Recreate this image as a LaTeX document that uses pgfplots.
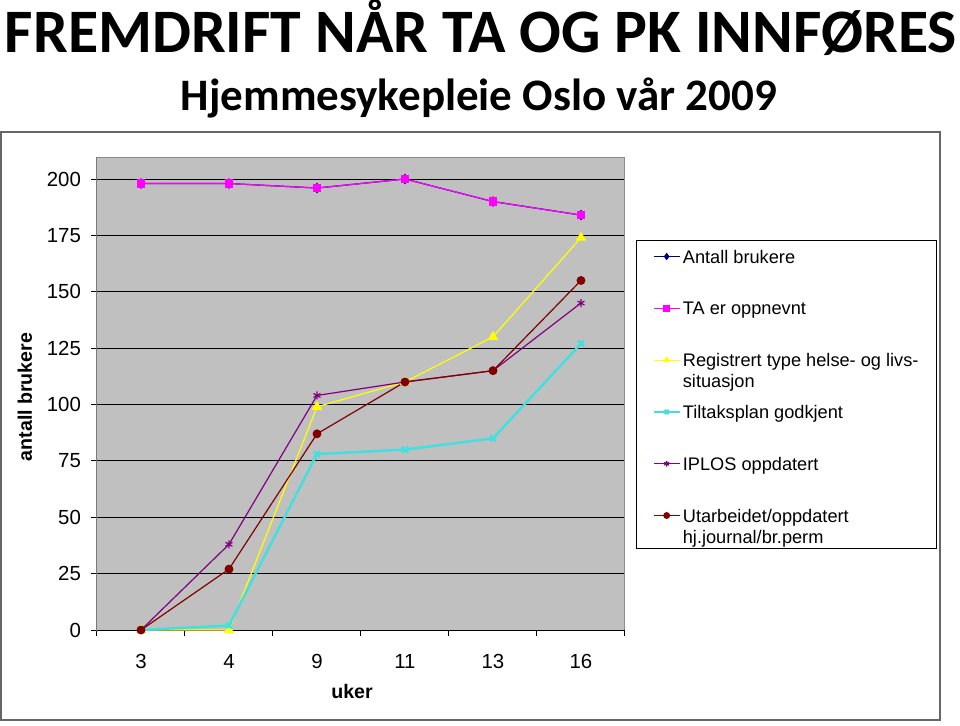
\documentclass[border=0pt]{standalone}
\usepackage{pgfplots}
\pgfplotsset{compat=1.18}
\usepackage{fontspec}
\setmainfont{Liberation Sans}
\newfontfamily\cali{Carlito}
\definecolor{plotbg}{RGB}{192,192,192}
\definecolor{sNavy}{RGB}{0,0,128}
\definecolor{sMag}{RGB}{255,0,255}
\definecolor{sYel}{RGB}{255,255,0}
\definecolor{sCyan}{RGB}{64,224,224}
\definecolor{sPur}{RGB}{128,0,128}
\definecolor{sRed}{RGB}{128,0,0}
\tikzset{lgt/.style={anchor=base west, inner ysep=0pt, inner xsep=1pt, text height=9.3pt, text depth=#1},
  lgt/.default=2.7pt}
\newcommand{\LT}[1]{\begin{tabular}[t]{@{}l@{}}#1\end{tabular}}
\begin{document}
\begin{tikzpicture}
\path[use as bounding box] (0,0) rectangle (480pt,362.5pt);
\draw[black!60, line width=0.6pt] (0.5pt,2.5pt) rectangle (470pt,296.5pt);
\node[anchor=base, inner sep=0pt] at (240.5pt,336pt) {\resizebox{476pt}{!}{\cali\bfseries\fontsize{31.5}{36}\selectfont FREMDRIFT NÅR TA OG PK INNFØRES}};
\node[anchor=base, inner sep=0pt] at (239.5pt,307.5pt) {\resizebox{298pt}{!}{\cali\bfseries\fontsize{22.4}{26}\selectfont Hjemmesykepleie Oslo vår 2009}};
\begin{axis}[
 at={(48.5pt,47.5pt)}, anchor=south west,
 scale only axis, width=264pt, height=236.5pt,
 xmin=-0.5, xmax=5.5, ymin=0, ymax=209.76,
 axis background/.style={fill=plotbg},
 axis line style={draw=black!45, line width=0.5pt},
 xtick={0,...,5}, xticklabels={3,4,9,11,13,16},
 minor xtick={-0.5,0.5,...,5.5},
 ytick={0,25,...,200},
 xtick pos=bottom, ytick pos=left,
 tick align=outside, major tick length=3pt, minor tick length=3pt,
 tick style={black, line width=0.5pt},
 every major x tick/.append style={draw=none},
 ymajorgrids, grid style={black, line width=0.5pt},
 /pgf/number format/assume math mode=true,
 ticklabel style={font=\fontsize{10.2}{12}\selectfont},
 xticklabel style={yshift=-5.5pt},
 yticklabel style={xshift=-1.5pt},
 xlabel={uker}, ylabel={antall brukere},
 label style={font=\bfseries\fontsize{9.8}{11}\selectfont},
 xlabel style={at={(axis description cs:0.483,-0.129)}, anchor=center},
 ylabel style={at={(axis description cs:-0.1364,0.4926)}, anchor=center},
 legend style={at={(1.0208,0.8245)}, anchor=north west, draw=black, line width=0.5pt, fill=white,
   inner xsep=8pt, inner ysep=2pt, row sep=13.9pt,
   nodes={font=\fontsize{9.1}{10.5}\selectfont}},
 legend image code/.code={\draw[mark repeat=2,mark phase=2,mark size=1.4pt] plot coordinates {(0pt,3.3pt) (6.5pt,3.3pt) (13pt,3.3pt)};},
]
\draw[black, line width=0.5pt] (rel axis cs:0,0) -- (rel axis cs:0,1);
\draw[black, line width=0.5pt] (rel axis cs:0,0) -- (rel axis cs:1,0);
\addplot[color=sNavy, mark=diamond*, mark size=2.2pt, line width=0.6pt] coordinates {(0,198) (1,198) (2,196) (3,200) (4,190) (5,184)};
\addlegendentry[lgt]{Antall brukere}
\addplot[color=sMag, mark=square*, mark size=1.8pt, line width=0.6pt] coordinates {(0,198) (1,198) (2,196) (3,200) (4,190) (5,184)};
\addlegendentry[lgt]{TA er oppnevnt}
\addplot[color=sYel, mark=triangle*, mark size=2.4pt, line width=0.6pt] coordinates {(0,0) (1,0) (2,99) (3,110) (4,130) (5,174)};
\addlegendentry[lgt]{\LT{Registrert type helse- og livs-\\situasjon}}
\addplot[color=sCyan, mark=x, mark size=2pt, line width=1.2pt] coordinates {(0,0) (1,2) (2,78) (3,80) (4,85) (5,127)};
\addlegendentry[lgt]{Tiltaksplan godkjent}
\addplot[color=sPur, mark=asterisk, mark size=2pt, line width=0.6pt] coordinates {(0,0) (1,38) (2,104) (3,110) (4,115) (5,145)};
\addlegendentry[lgt]{IPLOS oppdatert}
\addplot[color=sRed, mark=*, mark size=1.9pt, line width=0.6pt] coordinates {(0,0) (1,27) (2,87) (3,110) (4,115) (5,155)};
\addlegendentry[lgt=11.2pt]{\LT{Utarbeidet/oppdatert\\hj.journal/br.perm}}
\end{axis}
\end{tikzpicture}
\end{document}
